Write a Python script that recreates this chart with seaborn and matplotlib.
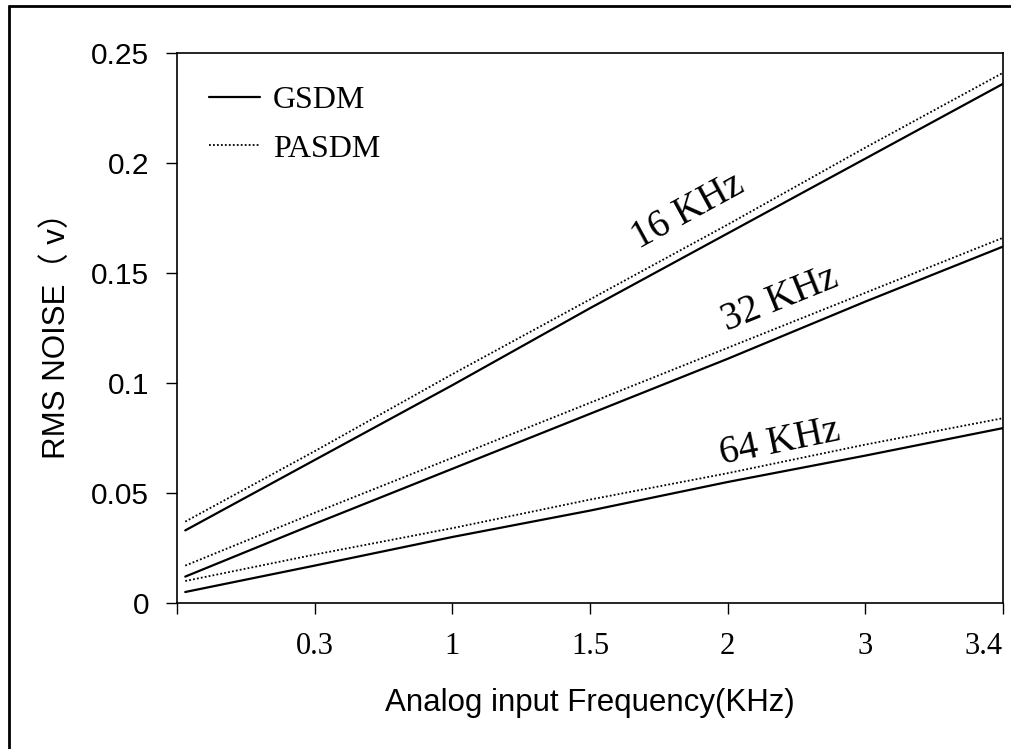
import numpy as np
import pandas as pd
import matplotlib.pyplot as plt
import seaborn as sns
from matplotlib.lines import Line2D

# DATA
freq_labels = ['', '0.3', '1', '1.5', '2', '3', '3.4']
x_pos = [0.06, 1, 2, 3, 4, 5, 6]   # first sample sits just right of the axis

gsdm_16 = [0.033, 0.065, 0.099, 0.134, 0.168, 0.202, 0.236]
pasdm_16 = [0.037, 0.069, 0.104, 0.138, 0.172, 0.207, 0.241]
gsdm_32 = [0.012, 0.036, 0.061, 0.086, 0.111, 0.137, 0.162]
pasdm_32 = [0.017, 0.041, 0.066, 0.091, 0.116, 0.141, 0.166]
gsdm_64 = [0.005, 0.017, 0.030, 0.042, 0.055, 0.067, 0.0795]
pasdm_64 = [0.010, 0.022, 0.034, 0.047, 0.059, 0.072, 0.084]

series = {('16 KHz', 'GSDM'): gsdm_16, ('16 KHz', 'PASDM'): pasdm_16,
          ('32 KHz', 'GSDM'): gsdm_32, ('32 KHz', 'PASDM'): pasdm_32,
          ('64 KHz', 'GSDM'): gsdm_64, ('64 KHz', 'PASDM'): pasdm_64}

rows = []
for (rate, method), vals in series.items():
    for x, v in zip(x_pos, vals):
        rows.append({'rate': rate, 'method': method, 'x': x, 'noise': v})
df = pd.DataFrame(rows)

sns.set_style('ticks')
plt.rcParams['font.family'] = ['Liberation Sans', 'Noto Sans CJK SC', 'DejaVu Sans']
plt.rcParams['text.color'] = 'black'
plt.rcParams['axes.labelcolor'] = 'black'
plt.rcParams['xtick.color'] = 'black'
plt.rcParams['ytick.color'] = 'black'

fig = plt.figure(figsize=(10.12, 7.49), dpi=100)
ax = fig.add_axes([177/1012, 1-603/749, (1003-177)/1012, (603-53)/749])

dotted = (0, (1, 1.2))
for (rate, method), grp in df.groupby(['rate', 'method']):
    if method == 'GSDM':
        sns.lineplot(data=grp, x='x', y='noise', ax=ax, color='black', lw=1.6, linestyle='-')
    else:
        sns.lineplot(data=grp, x='x', y='noise', ax=ax, color='black', lw=1.3, linestyle=dotted)

# curve labels
serif = 'Liberation Serif'
ax.text(3.71, 0.178, '16 KHz', rotation=28.6, rotation_mode='anchor', ha='center', va='center',
        fontsize=28, family=serif)
ax.text(4.38, 0.138, '32 KHz', rotation=22, rotation_mode='anchor', ha='center', va='center',
        fontsize=28, family=serif)
ax.text(4.38, 0.073, '64 KHz', rotation=11.5, rotation_mode='anchor', ha='center', va='center',
        fontsize=28, family=serif)

ax.set_xlim(0, 6)
ax.set_ylim(0, 0.25)
ax.set_xticks(range(7))
ax.set_xticklabels(freq_labels, family=serif, fontsize=22)
ax.get_xticklabels()[-1].set_ha('right')
ax.set_yticks([0, 0.05, 0.1, 0.15, 0.2, 0.25])
ax.set_yticklabels(['0', '0.05', '0.1', '0.15', '0.2', '0.25'], fontsize=21.5)
ax.tick_params(direction='out', length=8, width=1)
ax.tick_params(axis='x', pad=13)
ax.tick_params(axis='y', pad=12)

for sp in ax.spines.values():
    sp.set_visible(True)
    sp.set_color('black')
    sp.set_linewidth(1.2)

ax.set_xlabel('Analog input Frequency(KHz)', fontsize=22.5, labelpad=19)
ax.set_ylabel('RMS NOISE（ v）', fontsize=22.5, labelpad=14)

handles = [Line2D([], [], color='black', lw=1.6, linestyle='-'),
           Line2D([], [], color='black', lw=1.3, linestyle=dotted)]
ax.legend(handles, ['GSDM', 'PASDM'], loc='upper left', frameon=False,
          prop={'family': serif, 'size': 23}, handlelength=1.6, handletextpad=0.4,
          labelspacing=0.6, borderaxespad=0, bbox_to_anchor=(19/826, 1-20/550))

# outer frame (left and top edges visible)
fig.add_artist(Line2D([8.5/1012, 8.5/1012], [0, 1-6/749], transform=fig.transFigure, color='black', lw=2))
fig.add_artist(Line2D([8.5/1012, 1], [1-6/749, 1-6/749], transform=fig.transFigure, color='black', lw=2))

fig.savefig('out.png', dpi=100, facecolor='white')
